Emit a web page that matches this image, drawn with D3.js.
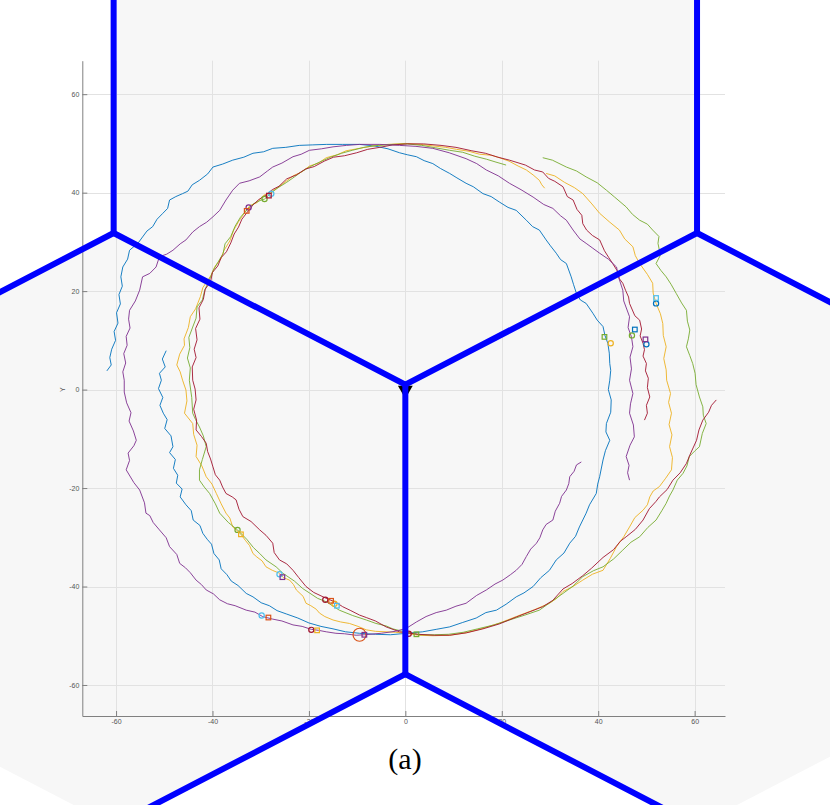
<!DOCTYPE html>
<html>
<head>
<meta charset="utf-8">
<script src="https://cdn.jsdelivr.net/npm/d3@7"></script>
<style>
  body { margin: 0; background: #fff; }
  svg { display: block; }
</style>
</head>
<body>
<script>
// tick values on both axes
const ticks = [-60, -40, -20, 0, 20, 40, 60]

// hexagonal cells (data units)
const hexTop = [[0, 1], [-60.5, 31.8], [-60.5, 90.6], [0, 121.4], [60.5, 90.6], [60.5, 31.8]]
const hexLeft = [[0, 1], [-60.5, 31.8], [-121, 1], [-121, -57.8], [-60.5, -88.6], [0, -57.8]]
const hexRight = [[0, 1], [60.5, 31.8], [121, 1], [121, -57.8], [60.5, -88.6], [0, -57.8]]

// cell borders drawn in blue (pairs of end points)
const borders = [
  [[0, 1], [-60.5, 31.8]], [[0, 1], [60.5, 31.8]], [[0, 1], [0, -57.8]],
  [[-60.5, 31.8], [-60.5, 90.6]], [[-60.5, 31.8], [-121, 1]],
  [[60.5, 31.8], [60.5, 90.6]], [[60.5, 31.8], [121, 1]],
  [[0, -57.8], [-60.5, -88.6]], [[0, -57.8], [60.5, -88.6]]
]

// station at the origin
const station = [[0, 0]]

// trajectories
const pathBlue = [[-49.6,7.9],[-50.4,6.2],[-49.8,4.6],[-51,3.3],[-50.6,1.9],[-51.2,0.2],[-50.3,-1.6],[-50.9,-3.2],[-50.2,-4.8],[-49.4,-6.1],[-49.9,-7.9],[-48.6,-9.4],[-48.2,-11.6],[-48.9,-12.8],[-47.7,-14.2],[-48.1,-16],[-47.2,-17.4],[-47.5,-19],[-46.3,-20.2],[-46.7,-21.8],[-45.5,-23.4],[-44.4,-24.6],[-44.0,-26.5],[-42.6,-27.6],[-42.0,-29.2],[-41.1,-30.4],[-40.2,-31.4],[-39.7,-33.3],[-38.6,-34.6],[-38.2,-36.4],[-37.0,-37.6],[-36.1,-38.9],[-34.7,-39.8],[-33.0,-41.4],[-31.6,-42.1],[-29.9,-43.3],[-28.2,-43.9],[-26.6,-44.9],[-24.6,-45.6],[-22.3,-46.4],[-20.0,-47.4],[-17.5,-48.1],[-15.0,-48.6],[-12.4,-49.2],[-9.5,-49.5],[-6.2,-49.7],[-3.1,-49.8],[0.2,-49.5],[3.6,-49.2],[6.4,-48.7],[9.2,-48.2],[11.9,-47.3],[14.7,-46.4],[16.7,-45.3],[18.9,-44.8],[20.9,-43.6],[23.0,-42.1],[24.6,-41.3],[26.5,-40.0],[28.1,-38.2],[29.9,-36.7],[31.3,-34.6],[32.9,-33.2],[34.1,-31.2],[35.3,-29.8],[36.1,-27.9],[37.5,-25.1],[38.2,-23.4],[39.6,-21.1],[39.9,-19.2],[40.3,-17.7],[41.0,-14.3],[41.5,-12.4],[42.4,-10.3],[41.6,-8.6],[41.7,-6.9],[42.6,-4.6],[42.7,-2.1],[42.1,0.0],[42.4,1.9],[42.6,3.9],[42.4,5.3],[42.3,7.4],[42.0,9.4],[41.4,11.0],[41.0,12.8],[39.8,14.1],[38.9,15.5],[37.5,17.5],[36.3,18.2],[35.5,19.5],[34.9,21.3],[34.4,22.9],[33.4,25.6],[32.2,26.4],[31.3,27.7],[30.1,29.2],[29.2,30.4],[27.8,32.4],[26.4,33.1],[25.1,34.4],[23.0,36.4],[21.3,37.0],[19.5,38.1],[17.8,39.2],[16.1,39.8],[14.1,41.2],[12.6,41.9],[10.7,43.0],[9.2,43.9],[7.3,44.9],[5.7,45.9],[3.9,46.5],[2.3,47.3],[0.4,47.7],[-1.2,48.1],[-3.6,48.9],[-6.5,49.5],[-9.5,49.8],[-13.0,49.8],[-16.4,49.8],[-19.2,49.7],[-22.0,49.6],[-24.8,49.2],[-27.5,49.0],[-29.4,48.3],[-31.6,48.0],[-33.5,47.2],[-35.8,46.6],[-37.9,45.8],[-39.9,45.2],[-41.0,43.8],[-42.7,42.5],[-44.2,41.6],[-45.1,40.3],[-46.2,39.8],[-47.6,39.2],[-48.9,38.5],[-49.3,36.8],[-50.3,35.8],[-51.5,34.6],[-52.4,33.1],[-53.6,32.2],[-54.5,31.0],[-55.4,29.8],[-57.2,28.3],[-57.6,26.5],[-58.6,24.9],[-59.0,22.9],[-58.7,21.0],[-59.4,19.3],[-59.1,17.4],[-59.9,15.6],[-59.6,13.5],[-60.4,11.8],[-60.1,10.0],[-60.9,8.2],[-61.3,6.5],[-61.0,5.0],[-61.9,3.8]]

const pathPurple = [[36.5,-14.7],[35.5,-15.3],[35.0,-16.6],[34.1,-17.7],[33.9,-19.1],[33.4,-20.4],[32.4,-21.7],[32.0,-23.1],[31.1,-24.7],[30.6,-26.5],[29.2,-27.4],[28.5,-28.5],[27.9,-30.1],[27.2,-31.2],[26.0,-32.4],[25.1,-33.9],[24.2,-35.5],[23.0,-36.7],[21.8,-37.6],[20.2,-38.7],[18.6,-39.5],[16.8,-40.7],[14.8,-41.8],[12.6,-43.4],[10.5,-44.0],[8.5,-44.8],[6.4,-45.3],[4.3,-46.1],[2.3,-47.2],[0.2,-48.5],[-2.1,-49.1],[-5.0,-49.5],[-8.5,-49.8],[-10.2,-49.9],[-12.6,-49.6],[-14.4,-49.5],[-16.4,-49.2],[-18.0,-48.9],[-19.5,-48.7],[-21.4,-48.1],[-23.3,-47.8],[-25.6,-47.0],[-27.6,-46.6],[-29.6,-46.1],[-31.2,-45.2],[-33.0,-44.8],[-35.3,-43.9],[-36.9,-43.5],[-38.5,-42.7],[-39.8,-41.5],[-41.3,-40.7],[-42.3,-39.6],[-43.4,-38.7],[-44.6,-37.2],[-45.6,-36.2],[-46.8,-35.3],[-47.4,-33.5],[-48.9,-31.9],[-49.6,-30.1],[-51.0,-28.5],[-52.3,-27.0],[-53.0,-25.6],[-53.8,-25.1],[-54.1,-23.0],[-55.1,-20.4],[-56.3,-18.9],[-57.9,-16.3],[-57.2,-14.4],[-57.5,-12.9],[-56.3,-11.4],[-55.8,-10.3],[-56.4,-8.4],[-57.3,-6.4],[-56.9,-4.7],[-57.8,-2.7],[-58.3,-0.5],[-58.3,1.9],[-58.6,3.6],[-58.0,5.4],[-58.4,7.3],[-57.7,9.0],[-57.9,10.8],[-57.1,12.5],[-57.4,14.3],[-57.2,16.1],[-56.0,18.0],[-55.1,20.2],[-54.5,22.9],[-53.0,23.6],[-51.7,24.9],[-51.0,27.0],[-49.5,27.5],[-48.2,28.3],[-46.7,29.6],[-45.5,30.4],[-44.1,32.0],[-42.7,33.1],[-41.2,34.0],[-39.9,35.1],[-38.5,36.4],[-37.2,38.5],[-35.8,40.5],[-34.4,41.9],[-32.4,42.4],[-30.2,43.2],[-28.6,44.4],[-27.5,45.2],[-25.6,46.0],[-23.3,47.3],[-21.6,47.8],[-19.9,48.6],[-17.4,48.9],[-15.0,49.3],[-12.2,49.6],[-9.5,49.8],[-5.3,49.8],[-1.2,49.6],[2.2,49.4],[5.7,49.0],[9.1,48.1],[12.6,46.9],[14.8,45.9],[16.8,44.6],[19.3,43.4],[21.6,41.9],[24.0,40.6],[26.5,39.1],[28.7,37.6],[30.6,36.8],[32.2,35.3],[33.4,34.4],[34.8,32.4],[36.2,30.6],[37.5,29.7],[38.9,28.7],[40.3,27.7],[42.1,26.5],[43.8,24.9],[44.3,22.6],[45.1,20.2],[45.3,18.0],[46.5,14.8],[46.2,12.6],[46.9,10.7],[47.2,8.7],[46.6,6.6],[46.9,4.2],[46.5,1.9],[47.2,-0.8],[46.7,-2.9],[46.5,-4.8],[47.3,-7.2],[47.5,-9.6],[46.6,-11.3],[45.8,-13.6],[46.4,-15.4],[46.1,-16.9],[46.5,-18.4]]

const pathRed = [[49.6,-6.2],[50.2,-4.8],[50.0,-3.2],[50.7,-1.5],[50.2,0.4],[50.4,2.3],[49.8,3.8],[50.0,5.3],[49.3,6.8],[49.6,8.1],[49.3,9.4],[48.7,10.9],[49.0,12.3],[48.6,14.1],[47.6,15.0],[46.5,17.5],[46.3,18.8],[45.7,20.1],[45.1,21.6],[44.4,22.5],[43.9,24.2],[43.0,25.6],[42.2,26.8],[41.3,28.2],[40.3,30.4],[38.8,31.3],[37.6,32.4],[36.8,33.7],[36.6,35.4],[35.6,36.6],[34.8,38.5],[33.6,39.2],[32.7,41.2],[31.0,42.3],[29.7,42.9],[28.5,44.2],[26.8,44.6],[24.9,45.6],[21.6,46.6],[19.2,47.2],[16.6,48.0],[13.8,48.5],[10.5,49.2],[7.4,49.6],[3.8,49.9],[0.4,49.9],[-2.6,49.7],[-5.3,49.2],[-7.8,48.8],[-10.1,48.1],[-12.6,47.5],[-14.9,47.2],[-16.8,46.4],[-18.9,45.3],[-20.7,44.8],[-22.6,43.6],[-24.6,42.8],[-26.2,41.3],[-27.6,40.6],[-28.9,39.5],[-30.4,38.6],[-31.6,37.5],[-32.8,36.0],[-33.9,34.6],[-34.6,33.0],[-35.5,31.6],[-36.2,29.8],[-37.1,28.0],[-38.2,26.8],[-38.9,25.1],[-40.0,23.8],[-40.4,21.9],[-41.5,20.4],[-41.9,18.3],[-42.8,16.6],[-42.6,14.3],[-43.5,12.4],[-43.2,10.1],[-43.8,8.2],[-43.4,6.5],[-44.2,4.6],[-44.1,1.9],[-43.6,0.1],[-43.4,-2.1],[-43.9,-4.0],[-43.3,-6.2],[-43.4,-8.2],[-42.3,-9.5],[-41.3,-10.9],[-41.0,-12.6],[-40.4,-14.1],[-39.9,-15.7],[-39.4,-17.3],[-38.5,-18.4],[-37.9,-19.8],[-37.2,-21.1],[-35.9,-21.8],[-35.1,-22.4],[-34.5,-24.3],[-33.7,-25.8],[-32.0,-26.8],[-30.2,-28.5],[-28.9,-29.6],[-27.5,-31.2],[-27.2,-33.1],[-26.1,-34.6],[-24.6,-35.4],[-23.3,-36.7],[-22.1,-38.2],[-20.6,-40.0],[-19.0,-41.2],[-16.4,-42.4],[-14.4,-43.2],[-13.0,-44.1],[-11.3,-44.9],[-9.5,-45.8],[-8.1,-46.3],[-6.2,-47.0],[-4.0,-48.2],[-1.2,-49.2],[2.6,-49.7],[6.0,-49.9],[9.2,-49.9],[12.7,-49.4],[16.1,-48.6],[19.5,-47.6],[23.0,-46.2],[25.9,-45.1],[28.5,-44.1],[30.6,-42.8],[32.7,-40.5],[34.6,-39.4],[36.8,-37.8],[38.6,-36.3],[41.0,-34.1],[43.2,-32.5],[44.6,-30.8],[45.8,-29.9],[47.7,-28.4],[49.3,-26.5],[50.6,-24.2],[52.0,-22.7],[52.7,-21.8],[54.3,-20.3],[55.5,-18.4],[57.0,-16.9],[58.3,-15.0],[59.1,-13.1],[60.4,-10.3],[60.9,-8.2],[61.7,-6.2],[62.9,-4.6],[63.5,-3.2],[64.5,-2.1]]

const pathYellow = [[29.2,43.9],[31.0,43.4],[33.0,42.1],[35.1,41.0],[36.8,39.8],[38.7,37.7],[40.3,35.8],[42.4,34.0],[44.4,32.4],[45.5,30.6],[47.2,29.0],[47.7,27.2],[48.6,25.6],[50.2,23.4],[51.3,21.6],[51.4,19.6],[52.0,17.5],[52.9,15.4],[53.4,13.4],[53.5,11.0],[54.1,8.7],[53.6,6.3],[54.1,4.0],[54.2,1.9],[55.0,-0.8],[54.6,-2.6],[55.2,-4.8],[54.7,-7.1],[55.3,-9.2],[54.8,-11.6],[55.4,-13.8],[55.2,-16.3],[54.0,-18.0],[52.7,-19.7],[51.4,-20.6],[50.7,-21.8],[50.2,-23.4],[49.3,-24.5],[47.6,-26.0],[46.5,-27.9],[45.3,-29.9],[43.8,-31.9],[42.5,-34.3],[41.0,-36.7],[38.8,-37.5],[36.8,-38.7],[34.6,-40.1],[32.7,-41.0],[31.4,-42.4],[29.9,-43.4],[26.8,-44.7],[23.0,-46.1],[19.6,-47.4],[16.1,-48.5],[12.6,-49.4],[9.2,-49.9],[5.8,-50.0],[2.8,-49.9],[0.2,-49.5],[-2.0,-49.3],[-4.0,-49.2],[-6.2,-49.1],[-8.1,-48.8],[-9.8,-48.1],[-11.6,-47.5],[-13.4,-47.2],[-15.0,-46.8],[-16.7,-46.1],[-17.8,-45.4],[-18.5,-44.6],[-19.6,-43.9],[-20.6,-43.4],[-21.2,-42.0],[-22.6,-40.7],[-23.2,-39.6],[-24.0,-38.7],[-25.3,-38.2],[-26.1,-37.3],[-27.6,-36.7],[-28.9,-36.0],[-29.7,-34.8],[-30.8,-34.0],[-31.6,-33.3],[-32.3,-31.7],[-33.2,-30.6],[-34.1,-29.4],[-35.0,-28.6],[-35.8,-27.9],[-36.4,-26.1],[-37.2,-25.1],[-38.2,-23.2],[-39.2,-21.1],[-40.1,-19.2],[-41.3,-17.7],[-42.2,-15.5],[-43.4,-13.6],[-43.2,-11.3],[-43.9,-9.1],[-44.1,-6.9],[-45.8,-4.8],[-45.3,-2.3],[-45.5,-0.1],[-46.2,1.9],[-46.7,3.6],[-47.4,5.0],[-46.8,7.2],[-45.8,9.0],[-45.9,10.3],[-45.0,12.6],[-44.6,14.8],[-43.5,16.4],[-42.5,18.9],[-42.0,20.7],[-41.4,21.6],[-40.3,23.2],[-39.5,25.0],[-38.3,26.5],[-37.6,28.3],[-36.4,30.2],[-35.6,32.4],[-34.6,34.1],[-33.5,35.7],[-32.2,37.4],[-30.7,38.0],[-29.5,39.4],[-28.0,40.1],[-26.8,40.8],[-25.0,42.1],[-23.3,43.4],[-21.5,44.2],[-19.9,45.4],[-18.0,46.0],[-16.4,47.1],[-14.1,47.7],[-12.3,48.5],[-9.5,49.0],[-6.8,49.5],[-3.6,49.8],[0.0,50.0],[3.2,49.8],[5.7,49.5],[8.4,49.2],[10.6,48.8],[13.2,48.4],[15.4,47.8],[17.8,47.6],[19.5,47.1],[21.5,46.4],[23.4,45.4],[25.1,44.6],[26.5,43.6],[27.8,42.5],[28.3,41.6],[28.9,40.9]]

const pathGreen = [[28.5,47.1],[30.5,46.6],[33.4,45.2],[35.5,44.4],[37.5,43.2],[39.8,42.0],[41.7,40.5],[43.4,39.1],[45.8,37.1],[47.1,35.6],[48.6,34.4],[50.2,33.6],[51.3,32.4],[52.6,31.1],[52.4,29.7],[52.9,27.3],[52.0,25.6],[53.0,24.2],[54.1,22.9],[55.1,21.4],[56.2,19.5],[57.3,17.6],[58.3,16.1],[58.5,13.9],[59.0,12.1],[58.7,10.3],[58.3,8.7],[59.0,6.9],[59.6,5.3],[60.1,3.3],[60.3,1.0],[61.0,-1.5],[61.7,-3.5],[61.8,-5.2],[62.4,-6.9],[61.6,-8.9],[61.0,-11.6],[60.0,-12.5],[58.9,-13.6],[58.4,-15.5],[57.6,-17.0],[56.4,-18.4],[55.5,-20.4],[54.8,-21.6],[54.1,-23.1],[53.2,-24.6],[52.0,-26.5],[50.3,-28.0],[48.6,-29.9],[46.8,-31.0],[45.1,-32.6],[43.2,-34.4],[41.0,-36.0],[39.0,-36.8],[36.8,-38.0],[34.8,-39.9],[32.7,-41.4],[30.4,-43.0],[27.8,-44.8],[24.8,-45.8],[21.6,-46.8],[18.4,-47.8],[15.0,-48.6],[12.0,-49.3],[9.0,-49.7],[6.0,-49.8],[3.0,-49.8],[1.0,-49.4],[-1.0,-49.0],[-2.6,-48.6],[-4.0,-48.0],[-6.1,-47.5],[-8.1,-46.8],[-10.9,-45.9],[-13.7,-44.8],[-16.4,-43.1],[-18.2,-42.4],[-19.9,-41.3],[-21.3,-40.4],[-23.0,-38.9],[-25.4,-37.3],[-26.8,-36.0],[-28.9,-34.6],[-30.2,-33.3],[-31.5,-32.1],[-32.9,-30.4],[-34.8,-28.5],[-36.7,-27.0],[-38.5,-25.1],[-39.4,-23.2],[-40.6,-21.1],[-41.7,-19.8],[-42.7,-18.4],[-42.7,-16.3],[-42.1,-14.2],[-41.3,-11.6],[-41.9,-9.4],[-42.7,-7.6],[-43.5,-6.1],[-44.1,-4.8],[-44.3,-1.6],[-44.8,1.9],[-44.6,4.4],[-45.2,6.4],[-44.7,8.5],[-44.9,10.6],[-44.1,12.7],[-43.4,14.5],[-43.2,16.8],[-42.1,18.2],[-41.6,20.2],[-40.6,22.4],[-39.8,24.3],[-38.9,25.8],[-37.8,27.6],[-37.4,29.6],[-36.2,31.1],[-35.3,33.2],[-34.2,35.0],[-32.8,36.6],[-31.4,37.8],[-29.9,38.5],[-29.2,38.7],[-27.9,39.9],[-26.4,41.0],[-24.6,42.1],[-23.0,43.2],[-21.6,44.2],[-19.7,45.3],[-17.8,46.2],[-15.5,47.2],[-13.2,48.0],[-11.0,48.6],[-8.6,49.2],[-5.6,49.6],[-2.5,49.8],[0.4,49.9],[3.4,49.6],[6.3,49.1],[9.2,48.6],[11.9,48.2],[14.4,47.4],[16.8,46.8],[18.8,46.2],[20.9,45.6]]

// markers: x, y, shape, colour index
const markers = [
  [-9.5, -49.8, "big", 1], [-8.5, -49.8, "s", 3],
  [-16.6, -42.7, "o", 6], [-15.4, -42.9, "s", 1], [-14.7, -43.5, "o", 2], [-14.2, -43.9, "s", 5],
  [-29.8, -45.9, "o", 5], [-28.4, -46.3, "s", 1],
  [-19.5, -48.8, "o", 6], [-18.3, -48.9, "s", 2],
  [-26.1, -37.5, "o", 5], [-25.5, -38.1, "s", 3],
  [0.7, -49.6, "o", 6], [2.3, -49.7, "s", 4],
  [-34.8, -28.5, "o", 4], [-34.1, -29.4, "s", 2],
  [-32.9, 36.3, "s", 1], [-32.5, 37.0, "o", 3],
  [-29.2, 38.7, "o", 4], [-28.3, 39.4, "s", 6], [-27.8, 39.8, "o", 5],
  [52.0, 18.6, "s", 5], [52.0, 17.5, "o", 0],
  [47.6, 12.2, "s", 0], [47.0, 11.0, "o", 4],
  [49.8, 10.2, "s", 3], [50.0, 9.2, "o", 0],
  [41.3, 10.7, "s", 4], [42.6, 9.4, "o", 2]
]

const colors = ["#0072BD", "#D95319", "#EDB120", "#7E2F8E", "#77AC30", "#4DBEEE", "#A2142F"]

const paths = [
  { data: pathBlue, c: 0 },
  { data: pathYellow, c: 2 },
  { data: pathGreen, c: 4 },
  { data: pathRed, c: 6 },
  { data: pathPurple, c: 3 }
]

const width = 830, height = 805

const svg = d3.select("body").append("svg")
  .attr("width", width)
  .attr("height", height)

svg.append("rect").attr("width", width).attr("height", height).attr("fill", "#fff")

const x = d3.scaleLinear().domain([-67, 66.3]).range([82.3, 725])
const y = d3.scaleLinear().domain([-66.3, 66.8]).range([716, 60.7])

const line = d3.line().x(d => x(d[0])).y(d => y(d[1]))
const hexes = [hexTop, hexLeft, hexRight]

// grey cells
svg.append("g").selectAll("path")
  .data(hexes)
  .join("path")
  .attr("d", d => line(d) + "Z")
  .attr("fill", "#f7f7f7")

// grid
const grid = svg.append("g").attr("stroke", "#e2e2e2").attr("stroke-width", 1)
grid.selectAll(".gx").data(ticks).join("line")
  .attr("x1", d => Math.round(x(d)) + 0.5).attr("x2", d => Math.round(x(d)) + 0.5)
  .attr("y1", y.range()[0]).attr("y2", y.range()[1])
grid.selectAll(".gy").data(ticks).join("line")
  .attr("y1", d => Math.round(y(d)) + 0.5).attr("y2", d => Math.round(y(d)) + 0.5)
  .attr("x1", x.range()[0]).attr("x2", x.range()[1])

// axes
const xAxis = svg.append("g")
  .attr("transform", `translate(0,${y.range()[0]})`)
  .call(d3.axisBottom(x).tickValues(ticks).tickSizeInner(-5).tickSizeOuter(0).tickPadding(3).tickFormat(d3.format("d")))
const yAxis = svg.append("g")
  .attr("transform", `translate(${x.range()[0]},0)`)
  .call(d3.axisLeft(y).tickValues(ticks).tickSizeInner(-5).tickSizeOuter(0).tickPadding(3).tickFormat(d3.format("d")))

;[xAxis, yAxis].forEach(a => {
  a.select(".domain").attr("stroke", "#808080")
  a.selectAll(".tick line").attr("stroke", "#808080")
  a.selectAll("text")
    .attr("fill", "#555")
    .style("font-family", "'Liberation Sans', Arial, sans-serif")
    .style("font-size", "7px")
    .text(d => String(d))
})

svg.append("text")
  .attr("transform", `translate(65,${y(0)}) rotate(-90)`)
  .attr("text-anchor", "middle")
  .attr("fill", "#555")
  .style("font-family", "'Liberation Sans', Arial, sans-serif")
  .style("font-size", "7px")
  .text("Y")

// trajectories
svg.append("g").selectAll("path")
  .data(paths)
  .join("path")
  .attr("d", d => line(d.data))
  .attr("fill", "none")
  .attr("stroke", d => colors[d.c])
  .attr("stroke-width", 0.9)
  .attr("stroke-linejoin", "round")

// start / end markers
const mk = svg.append("g").attr("fill", "none").attr("stroke-width", 1.2)
mk.selectAll("circle")
  .data(markers.filter(m => m[2] !== "s"))
  .join("circle")
  .attr("cx", d => x(d[0]))
  .attr("cy", d => y(d[1]))
  .attr("r", d => d[2] === "big" ? 6.5 : 2.6)
  .attr("stroke", d => colors[d[3]])
mk.selectAll("rect")
  .data(markers.filter(m => m[2] === "s"))
  .join("rect")
  .attr("x", d => x(d[0]) - 2.3)
  .attr("y", d => y(d[1]) - 2.3)
  .attr("width", 4.6)
  .attr("height", 4.6)
  .attr("stroke", d => colors[d[3]])

// station triangle
svg.append("g").selectAll("path")
  .data(station)
  .join("path")
  .attr("d", d3.symbol(d3.symbolTriangle, 95))
  .attr("transform", d => `translate(${x(d[0])},${y(d[1]) + 0.5}) rotate(180)`)
  .attr("fill", "#000")

// cell borders
svg.append("g").selectAll("line")
  .data(borders)
  .join("line")
  .attr("x1", d => x(d[0][0])).attr("y1", d => y(d[0][1]))
  .attr("x2", d => x(d[1][0])).attr("y2", d => y(d[1][1]))
  .attr("stroke", "#0000ff")
  .attr("stroke-width", 6)
  .attr("stroke-linecap", "round")

svg.append("text")
  .attr("x", 405)
  .attr("y", 769)
  .attr("text-anchor", "middle")
  .style("font-family", "'Liberation Serif', 'Times New Roman', serif")
  .style("font-size", "30px")
  .attr("fill", "#000")
  .text("(a)")
</script>
</body>
</html>
